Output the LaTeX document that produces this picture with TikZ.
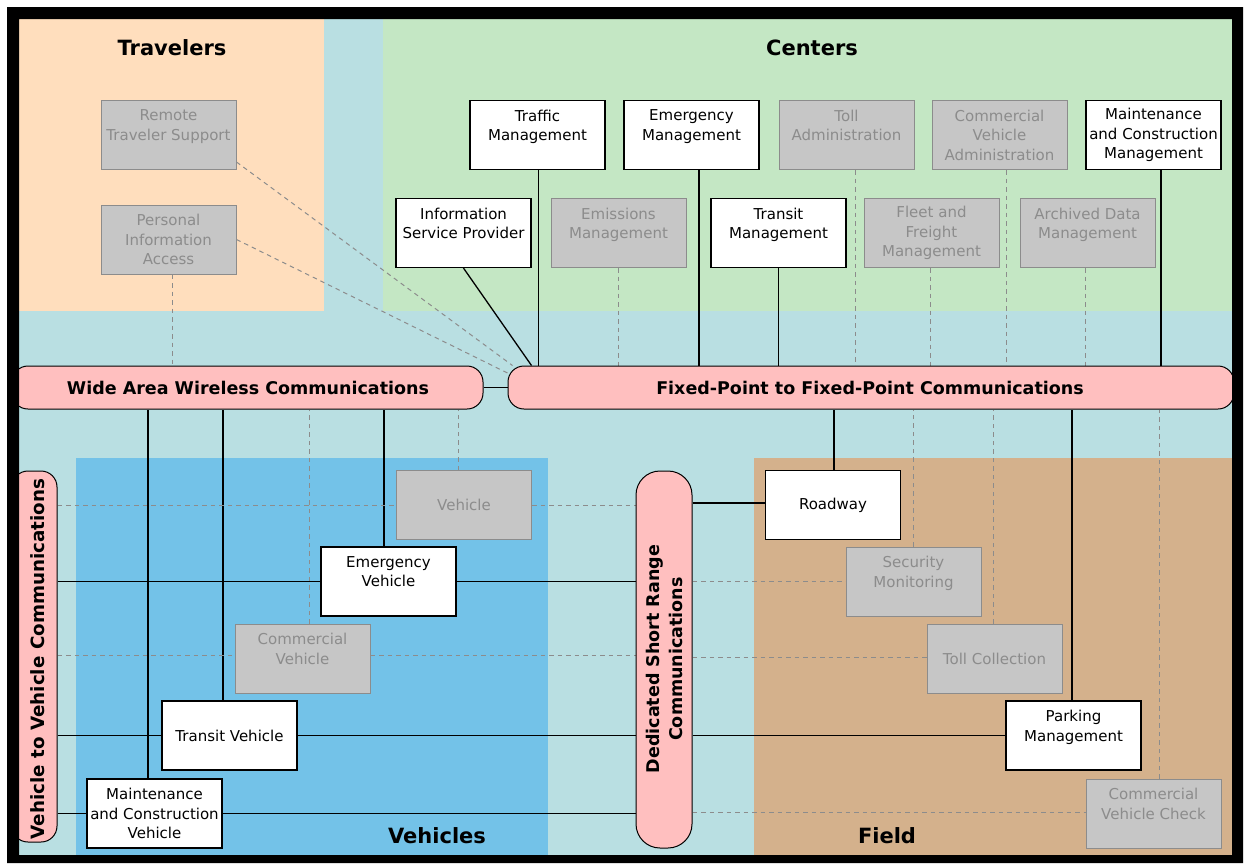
\documentclass[tikz,border=0pt]{standalone}
\usepackage{fontspec}
\setmainfont{DejaVu Sans}

\definecolor{skyback}{HTML}{B9DFE2}
\definecolor{travelfill}{HTML}{FFDEBD}
\definecolor{centerfill}{HTML}{C4E7C4}
\definecolor{vehiclefill}{HTML}{73C2E8}
\definecolor{fieldfill}{HTML}{D4B18C}
\definecolor{busfill}{HTML}{FFBFBF}
\definecolor{idlefill}{HTML}{C6C6C6}
\definecolor{idleline}{HTML}{8C8C8C}

\newcommand\boxfont{\fontsize{15}{19.5}\selectfont}
\newcommand\busfont{\bfseries\fontsize{17.5}{23}\selectfont}
\newcommand\areafont{\bfseries\fontsize{21}{24}\selectfont}

\pgfdeclarelayer{backdrop}
\pgfdeclarelayer{wires}
\pgfdeclarelayer{frame}
\pgfsetlayers{backdrop,wires,main,frame}

\tikzset{
  active/.style={draw=black, line width=1.2pt, fill=white, minimum width=135pt,
    minimum height=69pt, inner sep=0pt, align=center, font=\boxfont},
  idle/.style={active, draw=idleline, line width=1pt, fill=idlefill, text=idleline},
  bus/.style={draw=black, line width=1pt, fill=busfill, rounded corners=16pt, inner sep=0pt},
  bustext/.style={font=\busfont, align=center, inner sep=0pt},
  areatitle/.style={font=\areafont, inner sep=0pt},
  link/.style={draw=black, line width=1.3pt},
  weak/.style={draw=idleline, line width=1pt, dash pattern=on 4.5pt off 4pt},
}

\begin{document}
\begin{tikzpicture}[x=1pt,y=-1pt]
\useasboundingbox (0,0) rectangle (1249,863);

% coloured areas
\begin{pgfonlayer}{backdrop}
  \fill[white] (0,0) rectangle (1249,863);
  \fill[skyback] (19,19) rectangle (1232,855);
  \fill[travelfill] (19,19) rectangle (324,311);
  \fill[centerfill] (383,19) rectangle (1232,311);
  \fill[vehiclefill] (76,458) rectangle (548,855);
  \fill[fieldfill] (754,458) rectangle (1232,855);
\end{pgfonlayer}

% area titles
\node[areatitle] (ttrav) at (172,48) {Travelers};
\node[areatitle] (tcent) at (812,48) {Centers};
\node[areatitle] (tveh) at (437,836) {Vehicles};
\node[areatitle] (tfield) at (887,836) {Field};

% travelers
\node[idle] (rts) at (168.5,135) {Remote\\Traveler Support\\\mbox{}};
\node[idle] (pia) at (168.5,239.5) {Personal\\Information\\Access};

% centers
\node[active] (tm)  at (537.5,135)  {Traffic\\Management\\\mbox{}};
\node[active] (em)  at (691.5,135)  {Emergency\\Management\\\mbox{}};
\node[idle]   (ta)  at (846.5,135)  {Toll\\Administration\\\mbox{}};
\node[idle]   (cva) at (999.5,135)  {Commercial\\Vehicle\\Administration};
\node[active] (mcm) at (1153.5,135) {Maintenance\\and Construction\\Management};
\node[active] (isp) at (463.5,233)  {Information\\Service Provider\\\mbox{}};
\node[idle]   (emis) at (618.5,233) {Emissions\\Management\\\mbox{}};
\node[active] (trm) at (778.5,233)  {Transit\\Management\\\mbox{}};
\node[idle]   (ffm) at (931.5,233)  {Fleet and\\Freight\\Management};
\node[idle]   (adm) at (1087.5,233) {Archived Data\\Management\\\mbox{}};

% communication buses
\node[bus, minimum width=471pt, minimum height=43pt] (waw) at (247.5,387.5) {};
\node[bustext] (wawtext) at (248,388) {Wide Area Wireless Communications};
\node[bus, minimum width=726pt, minimum height=43pt] (fpfp) at (871,387.5) {};
\node[bustext] (fpfptext) at (870,388) {Fixed-Point to Fixed-Point Communications};
\node[bus, minimum width=45pt, minimum height=371pt] (v2v) at (34.5,656.5) {};
\node[bustext, rotate=90, font=\bfseries\fontsize{18.3}{22}\selectfont] (v2vtext) at (38,659) {Vehicle to Vehicle Communications};
\node[bus, rounded corners=24pt, minimum width=56pt, minimum height=377pt] (dsrc) at (664,659.5) {};
\node[bustext, rotate=90] (dsrctext) at (664,659) {Dedicated Short Range\\Communications};

% vehicles
\node[idle]   (veh) at (464,505)     {Vehicle};
\node[active] (ev)  at (388.5,581.5) {Emergency\\Vehicle\\\mbox{}};
\node[idle]   (cv)  at (302.5,658.5) {Commercial\\Vehicle\\\mbox{}};
\node[active] (tv)  at (229.5,735.5) {Transit Vehicle};
\node[active] (mcv) at (154.5,813.5) {Maintenance\\and Construction\\Vehicle};

% field
\node[active] (rw)  at (833,505)     {Roadway};
\node[idle]   (sm)  at (913.5,581.5) {Security\\Monitoring\\\mbox{}};
\node[idle]   (tc)  at (994.5,658.5) {Toll Collection};
\node[active] (pm)  at (1073.5,735.5) {Parking\\Management\\\mbox{}};
\node[idle]   (cvc) at (1153.5,813.5) {Commercial\\Vehicle Check\\\mbox{}};

% free ends on the fixed-point bus
\coordinate (ispend) at ([xshift=24pt]fpfp.north west);
\coordinate (rtsend) at ([xshift=5pt]fpfp.north west);
\coordinate (piaend) at ([yshift=14.5pt]fpfp.west);

\begin{pgfonlayer}{wires}
  % travelers
  \draw[weak] ([yshift=-27pt]rts.east) -- (rtsend);
  \draw[weak] (pia.east) -- (piaend);
  \draw[weak] ([xshift=3.5pt]pia.south) -- ([xshift=3.5pt]pia.south |- waw.north);

  % centers to fixed-point bus
  \draw[link] ([xshift=1pt]tm.south) -- ([xshift=1pt]tm.south |- fpfp.north);
  \draw[link] ([xshift=7.5pt]em.south) -- ([xshift=7.5pt]em.south |- fpfp.north);
  \draw[weak] ([xshift=8.5pt]ta.south) -- ([xshift=8.5pt]ta.south |- fpfp.north);
  \draw[weak] ([xshift=7pt]cva.south) -- ([xshift=7pt]cva.south |- fpfp.north);
  \draw[link] ([xshift=7.5pt]mcm.south) -- ([xshift=7.5pt]mcm.south |- fpfp.north);
  \draw[link] (isp.south) -- (ispend);
  \draw[weak] (emis.south) -- (emis.south |- fpfp.north);
  \draw[link] (trm.south) -- (trm.south |- fpfp.north);
  \draw[weak] ([xshift=-1pt]ffm.south) -- ([xshift=-1pt]ffm.south |- fpfp.north);
  \draw[weak] ([xshift=-2.5pt]adm.south) -- ([xshift=-2.5pt]adm.south |- fpfp.north);

  % bus to bus
  \draw[link] (waw.east) -- (fpfp.west);

  % wide area wireless to vehicles
  \draw[link] ([xshift=-6.5pt]mcv.north) -- ([xshift=-6.5pt]mcv.north |- waw.south);
  \draw[link] ([xshift=-6.5pt]tv.north) -- ([xshift=-6.5pt]tv.north |- waw.south);
  \draw[weak] ([xshift=6.5pt]cv.north) -- ([xshift=6.5pt]cv.north |- waw.south);
  \draw[link] ([xshift=-4.5pt]ev.north) -- ([xshift=-4.5pt]ev.north |- waw.south);
  \draw[weak] ([xshift=-6pt]veh.north) -- ([xshift=-6pt]veh.north |- waw.south);

  % fixed-point bus to field
  \draw[link] ([xshift=1pt]rw.north) -- ([xshift=1pt]rw.north |- fpfp.south);
  \draw[weak] (sm.north) -- (sm.north |- fpfp.south);
  \draw[weak] ([xshift=-1.5pt]tc.north) -- ([xshift=-1.5pt]tc.north |- fpfp.south);
  \draw[link] ([xshift=-1.5pt]pm.north) -- ([xshift=-1.5pt]pm.north |- fpfp.south);
  \draw[weak] ([xshift=5.5pt]cvc.north) -- ([xshift=5.5pt]cvc.north |- fpfp.south);

  % vehicle to vehicle and short range rows
  \draw[weak] (veh.west -| v2v.east) -- (veh.west);
  \draw[weak] (veh.east) -- (veh.east -| dsrc.west);
  \draw[link] ([yshift=2pt]rw.west -| dsrc.east) -- ([yshift=2pt]rw.west);

  \draw[link] (ev.west -| v2v.east) -- (ev.west);
  \draw[link] (ev.east) -- (ev.east -| dsrc.west);
  \draw[weak] (sm.west -| dsrc.east) -- (sm.west);

  \draw[weak] ([yshift=3.5pt]cv.west -| v2v.east) -- ([yshift=3.5pt]cv.west);
  \draw[weak] ([yshift=3.5pt]cv.east) -- ([yshift=3.5pt]cv.east -| dsrc.west);
  \draw[weak] ([yshift=1.5pt]tc.west -| dsrc.east) -- ([yshift=1.5pt]tc.west);

  \draw[link] (tv.west -| v2v.east) -- (tv.west);
  \draw[link] (tv.east) -- (tv.east -| dsrc.west);
  \draw[link] (pm.west -| dsrc.east) -- (pm.west);

  \draw[link] (mcv.west -| v2v.east) -- (mcv.west);
  \draw[link] (mcv.east) -- (mcv.east -| dsrc.west);
  \draw[weak] ([yshift=1.5pt]cvc.west -| dsrc.east) -- ([yshift=1.5pt]cvc.west);
\end{pgfonlayer}

% black frame
\begin{pgfonlayer}{frame}
  \fill[black, even odd rule] (7,7) rectangle (1243,863) (19,19) rectangle (1232,855);
\end{pgfonlayer}
\end{tikzpicture}
\end{document}
